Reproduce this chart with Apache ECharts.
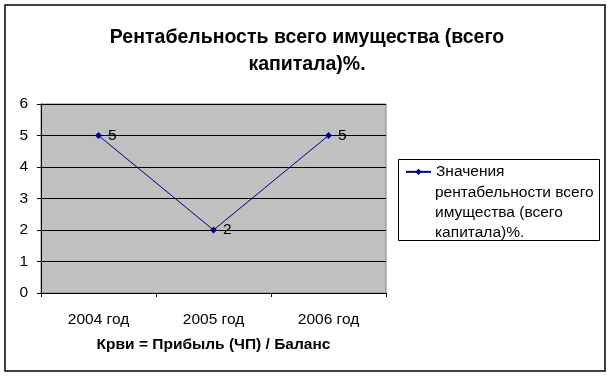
<!DOCTYPE html>
<html>
<head>
<meta charset="utf-8">
<script src="https://cdn.jsdelivr.net/npm/echarts@6/dist/echarts.min.js"></script>
<style>
  html, body { margin: 0; padding: 0; background: #fff; }
  #main { width: 613px; height: 376px; }
</style>
</head>
<body>
<div id="main"></div>
<script>
// данные графика
var years = ['2004 год', '2005 год', '2006 год'];
var values = [5, 2, 5];
var seriesName = 'Значения';
var legendRest = 'рентабельности всего\nимущества (всего\nкапитала)%.';

var myChart = echarts.init(document.getElementById('main'));

var font = 'Liberation Sans, Arial, sans-serif';

var option = {
  backgroundColor: '#fff',
  animation: false,
  textStyle: { fontFamily: font, color: '#000' },
  title: {
    text: 'Рентабельность всего имущества (всего\nкапитала)%.',
    left: 302,
    top: 19,
    textAlign: 'center',
    textStyle: { fontSize: 19.5, fontWeight: 'bold', color: '#000', lineHeight: 27, fontFamily: font }
  },
  graphic: [
    {
      type: 'rect',
      shape: { x: 5, y: 5, width: 600, height: 366 },
      style: { fill: 'none', stroke: '#000', lineWidth: 1.5 },
      silent: true
    },
    // рамка легенды
    {
      type: 'rect',
      z: 1,
      shape: { x: 398.5, y: 159.5, width: 201, height: 81 },
      style: { fill: '#fff', stroke: '#000', lineWidth: 1 },
      silent: true
    },
    {
      type: 'text',
      z: 2,
      left: 435,
      top: 183,
      style: {
        text: legendRest,
        font: '15.5px ' + font,
        fill: '#000',
        lineHeight: 19.7
      },
      silent: true
    }
  ],
  legend: {
    left: 405,
    top: 162,
    padding: 0,
    itemWidth: 25,
    itemHeight: 8,
    itemGap: 5,
    textStyle: { fontSize: 15.5, color: '#000', lineHeight: 19.7, fontFamily: font },
    data: [seriesName],
    z: 3
  },
  grid: {
    left: 41,
    right: 227,
    top: 104,
    bottom: 83,
    show: true,
    backgroundColor: '#c0c0c0',
    borderColor: '#808080',
    borderWidth: 1
  },
  xAxis: {
    type: 'category',
    data: years,
    boundaryGap: true,
    name: 'Крви = Прибыль (ЧП) / Баланс',
    nameLocation: 'middle',
    nameGap: 44,
    nameTextStyle: { fontSize: 15.5, fontWeight: 'bold', color: '#000', fontFamily: font },
    axisLine: { lineStyle: { color: '#000', width: 1 } },
    axisTick: { show: true, length: 4, lineStyle: { color: '#000' } },
    axisLabel: { fontSize: 15.5, color: '#000', margin: 19, fontFamily: font }
  },
  yAxis: {
    type: 'value',
    min: 0,
    max: 6,
    interval: 1,
    axisLine: { show: true, lineStyle: { color: '#000', width: 1 } },
    axisTick: { show: true, length: 4, lineStyle: { color: '#000' } },
    axisLabel: { fontSize: 15.5, color: '#000', margin: 13, fontFamily: font },
    splitLine: { show: true, lineStyle: { color: '#000', width: 1 } }
  },
  series: [{
    name: seriesName,
    type: 'line',
    data: values,
    symbol: 'diamond',
    symbolSize: 7,
    color: '#000080',
    lineStyle: { color: '#000080', width: 1 },
    itemStyle: { color: '#000080' },
    label: {
      show: true,
      position: 'right',
      distance: 6,
      fontSize: 15.5,
      color: '#000',
      fontFamily: font
    }
  }]
};

myChart.setOption(option);
</script>
</body>
</html>
